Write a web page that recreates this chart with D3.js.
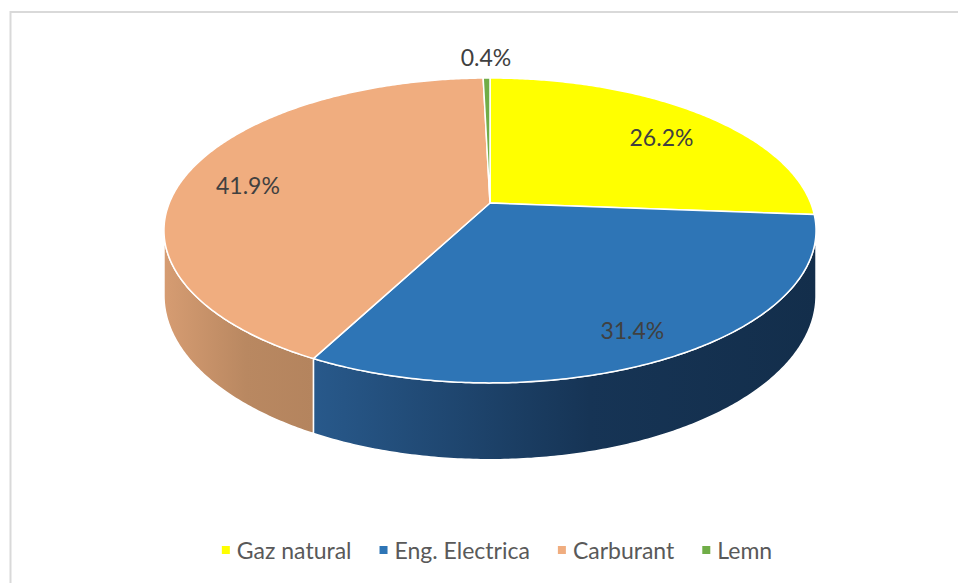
<!DOCTYPE html>
<html>
<head>
<meta charset="utf-8">
<script src="https://cdn.jsdelivr.net/npm/d3@7"></script>
<style>
  body { margin: 0; background: #ffffff; }
  svg { display: block; }
</style>
</head>
<body>
<svg id="chart" width="958" height="583"></svg>
<script>
// Energy mix shares (percent)
const categories = ["Gaz natural", "Eng. Electrica", "Carburant", "Lemn"];
const values = [26.2, 31.4, 41.9, 0.4];
const valueLabels = ["26.2%", "31.4%", "41.9%", "0.4%"];

// Palette: top faces and the light/dark ends of each side wall
const topColors = ["#FFFF00", "#2E75B6", "#F0AD7F", "#70AD47"];
const wallColors = [
  ["#CCCC00", "#9A9A00"],
  ["#28598B", "#132E4B"],
  ["#D69C72", "#B4845E"],
  ["#5A8A39", "#436A2A"]
];

const svg = d3.select("#chart");
const FONT = "Lato, 'Open Sans', sans-serif";

// Chart frame
svg.append("rect")
  .attr("x", 10.5).attr("y", 12)
  .attr("width", 1000).attr("height", 1000)
  .attr("fill", "#ffffff")
  .attr("stroke", "#D9D9D9").attr("stroke-width", 2);

// Tilted disc seen in perspective: angle a is clockwise from 12 o'clock,
// f is the fraction of the radius, drop pushes a point down the side wall.
const cx = 490, cy = 203;
const kx = 320.7, ky = 147.5, persp = 0.18, depth = 63;
function proj(f, a, drop = 0) {
  const X = f * Math.sin(a), Z = f * Math.cos(a);
  const w = 1 + persp * Z;
  return [cx + kx * X / w, cy + (-ky * Z + drop) / w];
}
function arcPoints(a0, a1, f, drop) {
  const n = Math.max(2, Math.ceil((a1 - a0) / 0.01));
  return d3.range(n + 1).map(i => proj(f, a0 + (a1 - a0) * i / n, drop));
}

const arcs = d3.pie().sort(null).value(d => d)(values);
const line = d3.line();
const defs = svg.append("defs");

// Only the front part of the rim faces the viewer
const frontStart = Math.acos(-persp);
const frontEnd = 2 * Math.PI - frontStart;

const walls = svg.append("g");
arcs.forEach((d, i) => {
  const a0 = Math.max(d.startAngle, frontStart);
  const a1 = Math.min(d.endAngle, frontEnd);
  if (a0 >= a1) return;
  const top = arcPoints(a0, a1, 1, 0);
  const bottom = arcPoints(a0, a1, 1, depth).reverse();
  const pts = top.concat(bottom);
  const xs = d3.extent(pts, p => p[0]);
  const g = defs.append("linearGradient")
    .attr("id", "wall" + i)
    .attr("gradientUnits", "userSpaceOnUse")
    .attr("x1", xs[0]).attr("x2", xs[1]).attr("y1", 0).attr("y2", 0);
  g.append("stop").attr("offset", 0).attr("stop-color", wallColors[i][0]);
  g.append("stop").attr("offset", 0.55).attr("stop-color", d3.interpolateRgb(wallColors[i][0], wallColors[i][1])(0.85));
  g.append("stop").attr("offset", 1).attr("stop-color", wallColors[i][1]);
  walls.append("path")
    .attr("d", line(pts) + "Z")
    .attr("fill", `url(#wall${i})`)
    .attr("stroke", "#ffffff").attr("stroke-width", 1.5)
    .attr("stroke-linejoin", "round");
});

// Top faces
const tops = svg.append("g");
arcs.forEach((d, i) => {
  const pts = [[cx, cy]].concat(arcPoints(d.startAngle, d.endAngle, 1, 0));
  tops.append("path")
    .attr("d", line(pts) + "Z")
    .attr("fill", topColors[i])
    .attr("stroke", "#ffffff").attr("stroke-width", 1.5)
    .attr("stroke-linejoin", "round");
});

// Data labels: inside the slice, or just outside the rim for thin slices
arcs.forEach((d, i) => {
  const mid = (d.startAngle + d.endAngle) / 2;
  const share = d.value / d3.sum(values);
  const p = proj(share < 0.02 ? 1.2 : 0.8, mid, share < 0.02 ? 0 : 8);
  svg.append("text")
    .attr("x", p[0]).attr("y", p[1])
    .attr("text-anchor", "middle")
    .attr("dominant-baseline", "central")
    .attr("font-family", FONT).attr("font-size", 23)
    .attr("fill", "#404040")
    .text(valueLabels[i]);
});

// Legend
const legend = svg.append("g");
let x = 0;
categories.forEach((c, i) => {
  legend.append("rect")
    .attr("x", x).attr("y", -4).attr("width", 8).attr("height", 8)
    .attr("fill", topColors[i]);
  const t = legend.append("text")
    .attr("x", x + 15).attr("y", 0)
    .attr("dominant-baseline", "central")
    .attr("font-family", FONT).attr("font-size", 23)
    .attr("fill", "#595959")
    .text(c);
  x += 15 + t.node().getComputedTextLength() + 28;
});
const legendWidth = x - 28;
legend.attr("transform", `translate(${497 - legendWidth / 2},550)`);
</script>
</body>
</html>
